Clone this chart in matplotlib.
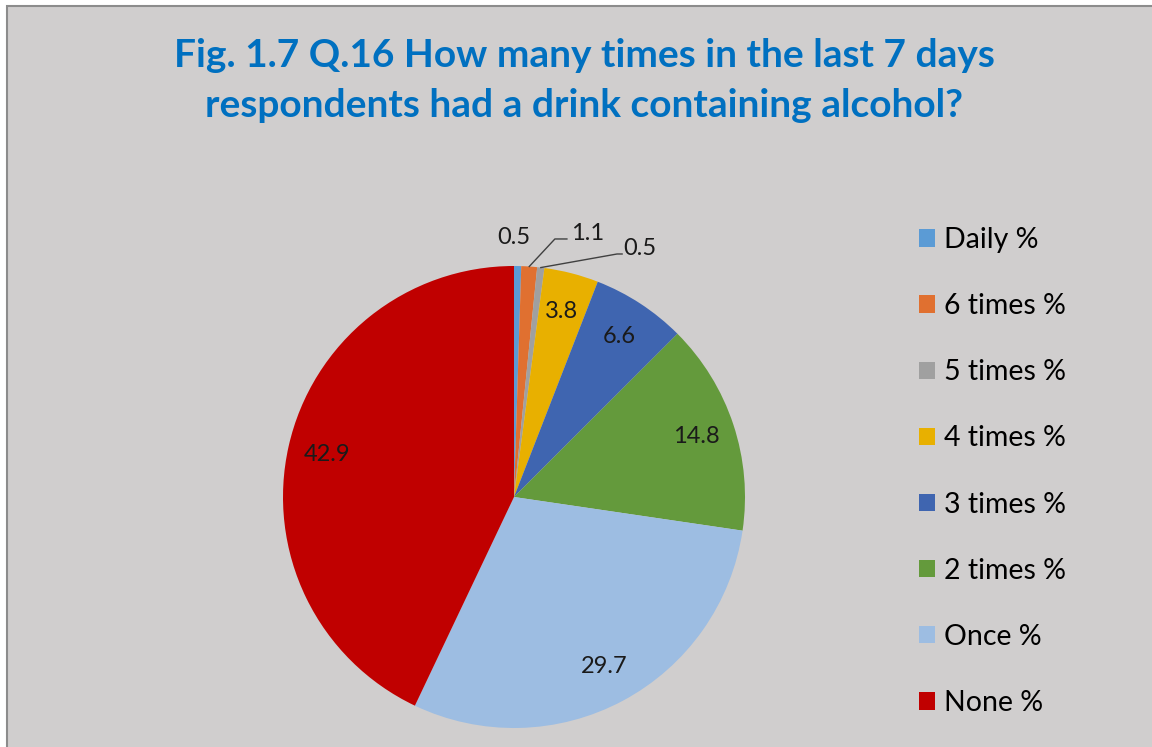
import matplotlib.pyplot as plt
import numpy as np
from matplotlib.patches import Rectangle, Patch

categories = ["Daily %", "6 times %", "5 times %", "4 times %",
              "3 times %", "2 times %", "Once %", "None %"]
values = [0.5, 1.1, 0.5, 3.8, 6.6, 14.8, 29.7, 42.9]
colors = ["#5B9BD5", "#E07030", "#A0A0A0", "#E8B000",
          "#3F65B0", "#649A3C", "#9DBDE2", "#C00000"]

title_lines = ["Fig. 1.7 Q.16 How many times in the last 7 days",
               "respondents had a drink containing alcohol?"]

W, H = 1152, 747
fig = plt.figure(figsize=(W / 100, H / 100), dpi=100, facecolor="white")

# chart area background with border on the left and top
fig.patches.append(Rectangle((7 / W, -0.1), 1.2, (H - 6) / H + 0.1,
                             transform=fig.transFigure, facecolor="#D0CECE",
                             edgecolor="#8C8C8C", linewidth=1.5, zorder=-5))

for line, base in zip(title_lines, [67, 117]):
    fig.text(584 / W, (H - base) / H, line, ha="center", va="baseline",
             color="#0070C0", fontsize=28, fontweight="bold", family="Lato")

cx, cy, r = 514, 497, 231
ax = fig.add_axes([(cx - r) / W, (H - cy - r) / H, 2 * r / W, 2 * r / H])
wedges, _ = ax.pie(values, colors=colors, startangle=90, counterclock=False,
                   radius=1, wedgeprops=dict(linewidth=0))
ax.set_xlim(-1, 1)
ax.set_ylim(-1, 1)
ax.set_aspect("equal")
ax.axis("off")

label_font = dict(fontsize=17, family="Lato", color="#1a1a1a")

# small slices get their labels outside the pie:
# (text x, text y, elbow x, elbow y, line end x) in axes units
outside = {
    0: (0.0, 1.125, None, None, None),
    1: (0.247, 1.141, 0.177, 1.117, 0.229),
    2: (0.472, 1.076, 0.446, 1.052, 0.468),
}

for i, (w, v) in enumerate(zip(wedges, values)):
    ang = np.deg2rad((w.theta1 + w.theta2) / 2)
    ex, ey = np.cos(ang), np.sin(ang)
    if i in outside:
        tx, ty, bx, by, lx = outside[i]
        if bx is None:
            ax.text(tx, ty, f"{v}", ha="center", va="center", **label_font)
        else:
            ax.plot([ex, bx, lx], [ey, by, by], color="#404040",
                    linewidth=1.0, clip_on=False)
            ax.text(tx, ty, f"{v}", ha="left", va="center", **label_font)
    else:
        ax.text(0.83 * ex, 0.83 * ey, f"{v}", ha="center", va="center", **label_font)

handles = [Patch(facecolor=c, edgecolor="none") for c in colors]
fig.legend(handles, categories, loc="upper left",
           bbox_to_anchor=(919 / W, (H - 227) / H), frameon=False,
           prop=dict(family="Lato", size=20.5), handlelength=0.56, handleheight=0.56,
           handletextpad=0.32, labelspacing=1.41, borderaxespad=0, borderpad=0)

fig.savefig("out.png", dpi=100, facecolor=fig.get_facecolor())
